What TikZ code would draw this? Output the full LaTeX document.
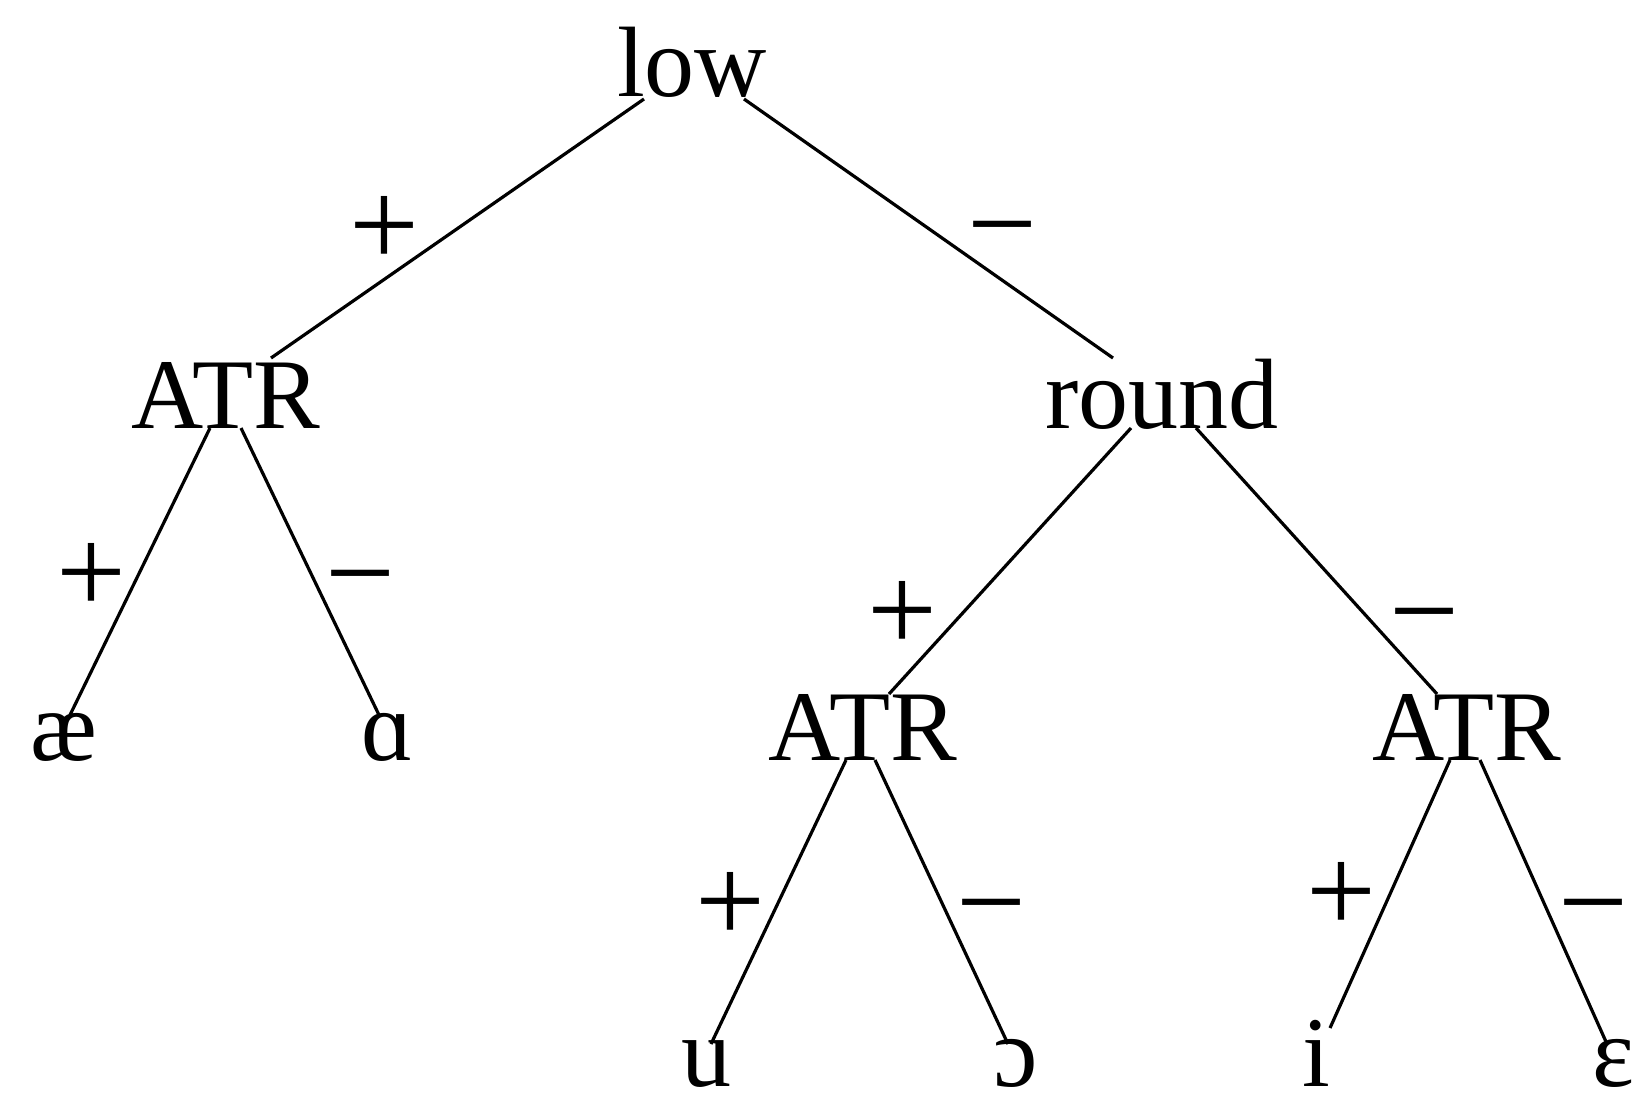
\documentclass[tikz,border=0pt]{standalone}
\usepackage{fontspec}
\setmainfont{Liberation Serif}
\begin{document}
\begin{tikzpicture}[x=0.5pt,y=-0.5pt,
  lab/.style={inner sep=0pt,anchor=base,text depth=0pt,font=\fontsize{50}{50}\selectfont},
  sgn/.style={inner sep=0pt,anchor=base,font=\fontsize{62}{62}\selectfont},
  edge/.style={line width=1.6pt}]
\useasboundingbox (0,0) rectangle (1636,1100);
\node[lab] (low) at (692,96) {low};
\node[lab] (atrA) at (226,428) {ATR};
\node[lab] (round) at (1162,428) {round};
\node[lab] (atrB) at (863,760) {ATR};
\node[lab] (atrC) at (1467,760) {ATR};
\node[lab] (ae) at (64,760) {æ};
\node[lab] (aa) at (388,760) {ɑ};
\node[lab] (uu) at (706,1086) {u};
\node[lab] (oo) at (1016,1086) {ɔ};
\node[lab] (ii) at (1316,1086) {i};
\node[lab] (ee) at (1613,1086) {ɛ};
\draw[edge] ([shift={(-48,3)}]low.base) -- ([shift={(45,-70)}]atrA.base);
\draw[edge] ([shift={(52,3)}]low.base) -- ([shift={(-49,-70)}]round.base);
\draw[edge] ([shift={(-16,0)}]atrA.base) -- ([shift={(6,-45)}]ae.base);
\draw[edge] ([shift={(15,0)}]atrA.base) -- ([shift={(-9,-45)}]aa.base);
\draw[edge] ([shift={(-31,0)}]round.base) -- ([shift={(26,-66)}]atrB.base);
\draw[edge] ([shift={(34,0)}]round.base) -- ([shift={(-30,-66)}]atrC.base);
\draw[edge] ([shift={(-17,0)}]atrB.base) -- ([shift={(5,-42)}]uu.base);
\draw[edge] ([shift={(12,0)}]atrB.base) -- ([shift={(-8,-42)}]oo.base);
\draw[edge] ([shift={(-17,0)}]atrC.base) -- ([shift={(14,-58)}]ii.base);
\draw[edge] ([shift={(13,0)}]atrC.base) -- ([shift={(-6,-42)}]ee.base);
\node[sgn] (s1) at (384,266) {+};
\node[sgn] (s2) at (1002,265) {−};
\node[sgn] (s3) at (91,613) {+};
\node[sgn] (s4) at (360,614) {−};
\node[sgn] (s5) at (902,651) {+};
\node[sgn] (s6) at (1424,652) {−};
\node[sgn] (s7) at (730,942) {+};
\node[sgn] (s8) at (991,943) {−};
\node[sgn] (s9) at (1341,932) {+};
\node[sgn] (s10) at (1593,943) {−};
\end{tikzpicture}
\end{document}
